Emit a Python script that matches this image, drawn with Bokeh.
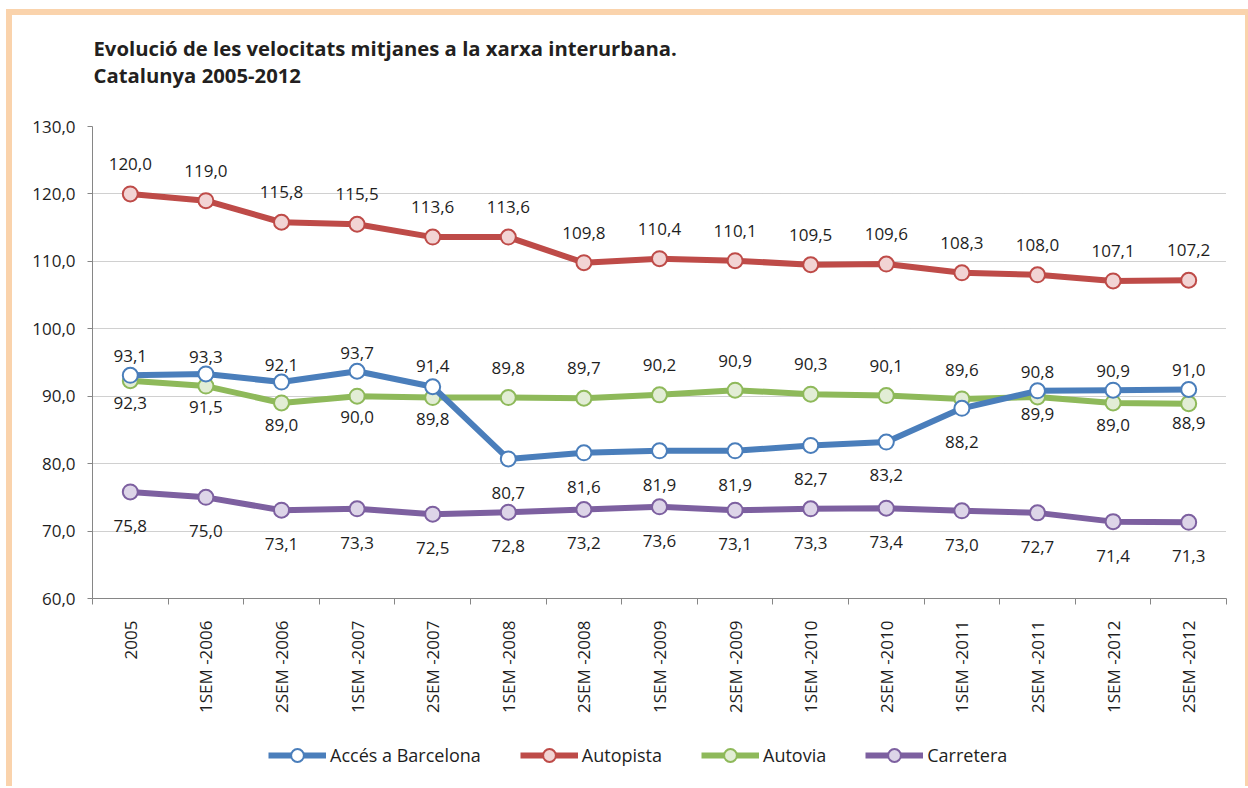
import math
from bokeh.plotting import figure
from bokeh.layouts import column
from bokeh.models import FixedTicker, Legend, LegendItem, ColumnDataSource, Range1d, Label
from bokeh.core.properties import value
from bokeh.embed import file_html
from bokeh.resources import INLINE

categories = ["2005", "1SEM -2006", "2SEM -2006", "1SEM -2007", "2SEM -2007",
              "1SEM -2008", "2SEM -2008", "1SEM -2009", "2SEM -2009", "1SEM -2010",
              "2SEM -2010", "1SEM -2011", "2SEM -2011", "1SEM -2012", "2SEM -2012"]
acces_bcn = [93.1, 93.3, 92.1, 93.7, 91.4, 80.7, 81.6, 81.9, 81.9, 82.7, 83.2, 88.2, 90.8, 90.9, 91.0]
autopista = [120.0, 119.0, 115.8, 115.5, 113.6, 113.6, 109.8, 110.4, 110.1, 109.5, 109.6, 108.3, 108.0, 107.1, 107.2]
autovia = [92.3, 91.5, 89.0, 90.0, 89.8, 89.8, 89.7, 90.2, 90.9, 90.3, 90.1, 89.6, 89.9, 89.0, 88.9]
carretera = [75.8, 75.0, 73.1, 73.3, 72.5, 72.8, 73.2, 73.6, 73.1, 73.3, 73.4, 73.0, 72.7, 71.4, 71.3]
y_ticks = [60, 70, 80, 90, 100, 110, 120, 130]
title_lines = ["Evolució de les velocitats mitjanes a la xarxa interurbana.", "Catalunya 2005-2012"]
series_names = ["Accés a Barcelona", "Autopista", "Autovia", "Carretera"]

# label pixel offsets (styling)
off_blue = [-19, -17, -17, -18, -21, 34, 34, 34, 34, 34, 33, 34, -19, -19, -19]
off_red = [-30] * 15
off_green = [22, 21, 22, 21, 21, -30, -30, -30, -29, -30, -30, -29, 17, 22, 19]
off_purple = [34] * 15

FONT = "Open Sans"
TXT = "#1e1e1e"
AX = "#868686"
PEACH = "#FAD3AC"
W = 1233

# ---- title strip ----
pt = figure(width=W, height=100, output_backend="svg", toolbar_location=None,
            x_axis_location=None, y_axis_location=None, min_border=0)
pt.grid.visible = False
pt.outline_line_color = None
for txt, yy in zip(title_lines, [68, 41]):
    pt.add_layout(Label(x=1, y=yy, x_units="screen", y_units="screen", text=txt,
                        text_font=FONT, text_font_size="20.3px", text_font_style="bold",
                        text_color="#231F20", text_baseline="middle", text_align="left"))

# ---- main chart ----
p = figure(width=W, height=619, x_range=Range1d(-0.5, 14.5), y_range=Range1d(60, 130),
           output_backend="svg", toolbar_location=None,
           min_border_left=80, min_border_top=11, min_border_right=19, min_border_bottom=136)
p.outline_line_color = None

xa = p.xaxis[0]
xa.ticker = FixedTicker(ticks=list(range(len(categories))),
                        minor_ticks=[i - 0.5 for i in range(len(categories) + 1)])
xa.major_label_overrides = {i: c for i, c in enumerate(categories)}
xa.major_label_orientation = math.pi / 2
xa.major_tick_out = 0
xa.major_tick_in = 0
xa.minor_tick_out = 6
xa.minor_tick_in = 0
xa.minor_tick_line_color = AX
xa.axis_line_color = AX
xa.major_label_standoff = 16
xa.major_label_text_font = FONT
xa.major_label_text_font_size = "17px"
xa.major_label_text_color = TXT

ya = p.yaxis[0]
ya.ticker = FixedTicker(ticks=y_ticks)
ya.major_label_overrides = {v: f"{v},0" for v in y_ticks}
ya.major_tick_out = 5
ya.major_tick_in = 0
ya.minor_tick_out = 0
ya.minor_tick_in = 0
ya.major_tick_line_color = AX
ya.axis_line_color = AX
ya.major_label_standoff = 12
ya.major_label_text_font = FONT
ya.major_label_text_font_size = "17px"
ya.major_label_text_color = TXT

p.xgrid.visible = False
p.ygrid.grid_line_color = "#A0A0A0"
p.ygrid.grid_line_dash = "1 1"
p.ygrid.grid_line_width = 1

x = list(range(len(categories)))
series = [
    ("Autopista", autopista, "#BE4B48", "#F2D4D4", off_red),
    ("Autovia", autovia, "#8EB95A", "#E2EDD5", off_green),
    ("Carretera", carretera, "#7D60A0", "#DDD5E8", off_purple),
    ("Accés a Barcelona", acces_bcn, "#4A7EBB", "#FFFFFF", off_blue),
]
style = {}
for name, vals, col, fill, offs in series:
    src = ColumnDataSource(dict(x=x, y=vals, lab=[f"{v:.1f}".replace(".", ",") for v in vals], off=offs))
    p.line("x", "y", source=src, line_color=col, line_width=6, line_join="round")
    p.scatter("x", "y", source=src, size=15, fill_color=fill, line_color=col, line_width=2)
    p.text("x", "y", text="lab", source=src, y_offset="off", text_align="center",
           text_baseline="middle", text_font=value(FONT), text_font_size="17px", text_color=TXT)
    style[name] = (col, fill, vals)

# ---- legend strip (series drawn outside its visible range; only the legend shows) ----
pl = figure(width=W, height=52, output_backend="svg", toolbar_location=None,
            x_axis_location=None, y_axis_location=None, min_border=0,
            x_range=Range1d(-0.5, 14.5), y_range=Range1d(0, 1))
pl.grid.visible = False
pl.outline_line_color = None
items = []
for name in series_names:
    col, fill, vals = style[name]
    src = ColumnDataSource(dict(x=x, y=vals))
    ln = pl.line("x", "y", source=src, line_color=col, line_width=6)
    sc = pl.scatter("x", "y", source=src, size=15, fill_color=fill, line_color=col, line_width=2)
    items.append(LegendItem(label=name, renderers=[ln, sc]))
legend = Legend(items=items, orientation="horizontal", location=(176, 15),
                glyph_width=58, glyph_height=32, label_standoff=4, spacing=39,
                padding=0, margin=0, border_line_color=None, background_fill_alpha=0,
                label_text_font=FONT, label_text_font_size="18px", label_text_color=TXT)
pl.add_layout(legend)

layout = column(pt, p, pl, spacing=0)
layout.styles = {"position": "relative", "left": "12px", "top": "15px",
                 "box-shadow": (f"-6px 0 0 0 {PEACH}, 6px 0 0 0 {PEACH}, 0 -6px 0 0 {PEACH}, "
                                f"-6px -6px 0 0 {PEACH}, 6px -6px 0 0 {PEACH}")}

open("out.html", "w").write(file_html(layout, INLINE))
